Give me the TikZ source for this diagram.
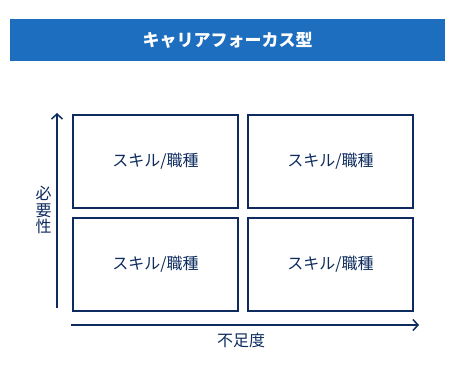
\documentclass[tikz,border=0pt]{standalone}
\usepackage{fontspec}
\setmainfont{Noto Sans CJK JP}
\usetikzlibrary{arrows.meta,positioning}

\definecolor{bannerblue}{HTML}{1E6EBF}
\definecolor{navy}{HTML}{0D2B5E}

\begin{document}
\begin{tikzpicture}[
    x=1pt, y=-1pt,
    font=\fontsize{16}{16.5}\selectfont,
    cell/.style={draw=navy, line width=2pt, text=navy, minimum width=165pt, minimum height=93pt, inner sep=0pt},
    axis/.style={draw=navy, line width=1.8pt, -{Straight Barb[length=5pt,width=11pt,line width=1.5pt]}},
  ]
    \useasboundingbox (0,0) rectangle (460,372);

    % title banner
    \node[fill=bannerblue, text=white, minimum width=435pt, minimum height=42pt, inner sep=0pt,
          font=\fontsize{17}{18}\selectfont\bfseries] (title) at (227.5,40) {キャリアフォーカス型};

    % 2x2 grid
    \node[cell] (tl) at (155.5,161) {スキル/職種};
    \node[cell, right=8pt of tl] (tr) {スキル/職種};
    \node[cell, below=8pt of tl] (bl) {スキル/職種};
    \node[cell, right=8pt of bl] (br) {スキル/職種};

    % axes
    \coordinate (ybot) at (57,308);
    \coordinate (ytop) at (57,113);
    \coordinate (xleft) at (71,325);
    \coordinate (xright) at (419,325);
    \draw[axis] (ybot) -- (ytop);
    \draw[axis] (xleft) -- (xright);

    \node[text=navy, align=center, inner sep=0pt] (need) at (43.5,210) {必\\要\\性};
    \node[text=navy, inner sep=0pt] (lack) at (241,340) {不足度};
  \end{tikzpicture}
\end{document}
